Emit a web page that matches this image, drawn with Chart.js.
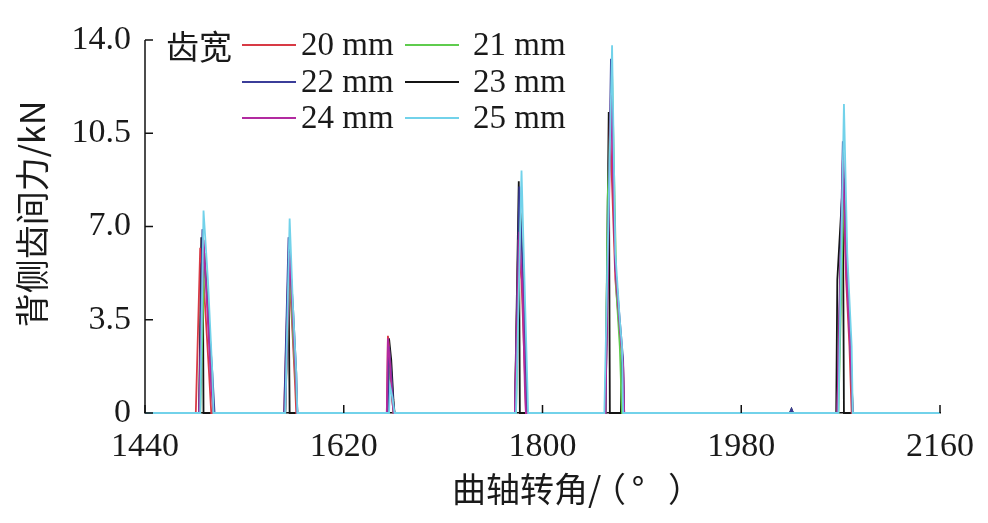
<!DOCTYPE html>
<html>
<head>
<meta charset="utf-8">
<script src="https://cdn.jsdelivr.net/npm/chart.js@4.4.1/dist/chart.umd.min.js"></script>
<style>
html,body{margin:0;padding:0;background:#fff;}
#wrap{position:relative;width:988px;height:523px;}
</style>
</head>
<body>
<div id="wrap"><canvas id="c" width="988" height="523"></canvas></div>
<script>
// ---- data (crank angle in degrees, force in kN) ----
const xTicks = [1440, 1620, 1800, 1980, 2160];
const yTicks = [0, 3.5, 7.0, 10.5, 14.0];
const seriesLabels = ['20 mm', '21 mm', '22 mm', '23 mm', '24 mm', '25 mm'];
const legendTitle = '齿宽';
const xTitleParts = ['曲轴转角/', '（', '°', '）'];
const yTitle = '背侧齿间力/kN';

const angle20 = [1440,1486,1490,1493,1498,1500, 1566,1570,1573,1576,1577, 1659,1660,1662,1664,1665, 1775,1778,1781,1784,1785, 1857,1861,1866,1870,1873,1874, 2067,2072,2075,2078,2080, 2160];
const force20 = [0,0,6.2,5.0,1.5,0, 0,5.8,3.5,1.0,0, 0,2.9,2.0,0.5,0, 0,6.5,5.0,1.5,0, 0,11.0,5.0,3.0,1.8,0, 0,9.0,5.0,2.5,0, 0];

const angle21 = [1440,1490,1494,1497,1500,1502, 1567,1571,1574,1577,1578, 1660,1661,1663,1665, 1776,1780,1782,1785,1786, 1857,1859,1863,1867,1870,1872, 2068,2073,2076,2079,2081, 2160];
const force21 = [0,0,6.0,4.0,1.2,0, 0,5.5,3.0,0.8,0, 0,2.2,1.2,0, 0,7.5,5.5,1.5,0, 0,8.0,12.8,4.5,2.5,0, 0,8.8,5.5,2.5,0, 0];

const angle22 = [1440,1489,1492,1496,1501,1503, 1566,1570,1574,1577,1578, 1660,1661,1663,1665,1666, 1775,1779,1782,1785,1786, 1857,1862,1866,1870,1873,1874, 2024,2025.5,2027, 2067,2072,2075,2079,2081, 2160];
const force22 = [0,0,6.9,4.5,1.5,0, 0,6.6,4.0,1.5,0, 0,2.5,1.5,0.3,0, 0,8.5,5.5,1.5,0, 0,13.3,5.5,3.5,2.0,0, 0,0.15,0, 0,10.2,6.0,2.5,0, 0];

const angle23 = [1440,1489,1491,1492.5,1493, 1567,1570,1571, 1660,1661,1663,1665,1666, 1775,1778.5,1779.5, 1857,1860,1861,1871,1872,1873, 2024,2025.5,2027, 2066,2067,2072,2073, 2160];
const force23 = [0,0,6.6,4.5,0, 0,5.2,0, 0,2.8,2.0,0.5,0, 0,8.7,0, 0,11.3,0,0,2.5,0, 0,0.15,0, 0,5.0,8.7,0, 0];

const angle24 = [1440,1489,1493,1496,1500,1502, 1567,1571,1574,1577,1578, 1659,1660,1662,1664,1665, 1775,1779,1782,1784,1785, 1857,1862,1866,1870,1873,1874, 2067,2072,2075,2079,2081, 2160];
const force24 = [0,0,6.5,4.2,1.0,0, 0,6.0,3.5,1.0,0, 0,2.8,1.8,0.5,0, 0,6.8,4.5,1.0,0, 0,12.0,5.5,3.2,1.8,0, 0,9.5,5.5,2.2,0, 0];

const angle25 = [1440,1490,1493,1497,1501,1502, 1567,1571,1574,1577,1578, 1661,1662,1664,1666, 1776,1781,1783,1786,1787, 1856,1863,1866,1870,1872,1873, 2068,2073,2076,2080,2081, 2160];
const force25 = [0,0,7.6,5.0,1.5,0, 0,7.3,4.0,1.5,0, 0,1.0,0.6,0, 0,9.1,6.0,1.5,0, 0,13.8,6.0,3.5,2.5,0, 0,11.6,6.0,2.5,0, 0];

const colors = ['#d83a45', '#5fcc4e', '#3b3d99', '#141414', '#b22aa0', '#72d2ea'];
const drawOrder = [4, 3, 2, 6, 1, 0]; // lower = drawn on top
const angles = [angle20, angle21, angle22, angle23, angle24, angle25];
const forces = [force20, force21, force22, force23, force24, force25];

const SERIF = '"Liberation Serif", "DejaVu Serif", serif';
const CJK = '"Noto Sans CJK SC", "Noto Sans", sans-serif';

const datasets = seriesLabels.map((lab, i) => ({
  label: lab,
  data: angles[i].map((a, k) => ({x: a, y: forces[i][k]})),
  borderColor: colors[i],
  backgroundColor: colors[i],
  borderWidth: 1.8,
  pointRadius: 0,
  tension: 0,
  fill: false,
  order: drawOrder[i],
  clip: 6
}));

const decor = {
  id: 'decor',
  afterDatasetsDraw(chart) {
    const ctx = chart.ctx;
    const xs = chart.scales.x, ys = chart.scales.y;
    const L = xs.left, R = xs.right, T = ys.top, B = ys.bottom;
    ctx.save();
    ctx.strokeStyle = '#111';
    ctx.lineWidth = 1.5;
    ctx.beginPath();
    ctx.moveTo(L, T); ctx.lineTo(L, B);
    ctx.stroke();
    ctx.beginPath();
    xTicks.forEach(v => { const px = xs.getPixelForValue(v); ctx.moveTo(px, B); ctx.lineTo(px, B - 8); });
    yTicks.forEach(v => { const py = ys.getPixelForValue(v); ctx.moveTo(L, py); ctx.lineTo(L + 8, py); });
    ctx.stroke();
    ctx.restore();

    ctx.save();
    ctx.fillStyle = '#1a1a1a';
    ctx.textBaseline = 'middle';
    // legend
    ctx.font = '33px ' + CJK;
    ctx.textAlign = 'left';
    ctx.fillText(legendTitle, 166, 46);
    const cols = [{lx: 242, tx: 301}, {lx: 405, tx: 473}];
    const rows = [45, 82, 118];
    ctx.font = '33px ' + SERIF;
    seriesLabels.forEach((lab, i) => {
      const c = cols[i % 2], y = rows[Math.floor(i / 2)];
      ctx.strokeStyle = colors[i];
      ctx.lineWidth = 2;
      ctx.beginPath();
      ctx.moveTo(c.lx, y); ctx.lineTo(c.lx + 54, y);
      ctx.stroke();
      ctx.fillText(lab, c.tx, y + 1);
    });
    // x axis title (parts placed individually for the wide bracket spacing)
    ctx.font = '34px ' + CJK;
    ctx.textAlign = 'left';
    ctx.fillText(xTitleParts[0], 452, 489);
    ctx.fillText(xTitleParts[1], 592, 489);
    ctx.textAlign = 'center';
    ctx.fillText(xTitleParts[2], 638, 489);
    ctx.textAlign = 'left';
    ctx.fillText(xTitleParts[3], 668, 489);
    // y axis title
    ctx.textAlign = 'center';
    ctx.translate(32, 214);
    ctx.rotate(-Math.PI / 2);
    ctx.fillText(yTitle, 0, 0);
    ctx.restore();
  }
};

new Chart(document.getElementById('c'), {
  type: 'line',
  data: { datasets },
  options: {
    responsive: false,
    animation: false,
    events: [],
    layout: { padding: { top: 40, right: 44, left: 0, bottom: 0 } },
    plugins: { legend: { display: false }, tooltip: { enabled: false } },
    scales: {
      x: {
        type: 'linear', min: 1440, max: 2160,
        afterFit(s) { s.height = 110; },
        afterBuildTicks(s) { s.ticks = xTicks.map(v => ({value: v})); },
        grid: { display: false, drawTicks: false },
        border: { display: true, color: '#111', width: 1.5 },
        ticks: { padding: 14, color: '#1a1a1a', font: { family: SERIF, size: 34 }, maxRotation: 0, autoSkip: false,
          callback: v => String(v) }
      },
      y: {
        type: 'linear', min: 0, max: 14,
        afterFit(s) { s.width = 145; },
        afterBuildTicks(s) { s.ticks = yTicks.map(v => ({value: v})); },
        grid: { display: false, drawTicks: false },
        border: { display: false },
        ticks: { padding: 14, color: '#1a1a1a', font: { family: SERIF, size: 34 },
          callback: v => v === 0 ? '0' : Number(v).toFixed(1) }
      }
    }
  },
  plugins: [decor]
});
</script>
</body>
</html>
